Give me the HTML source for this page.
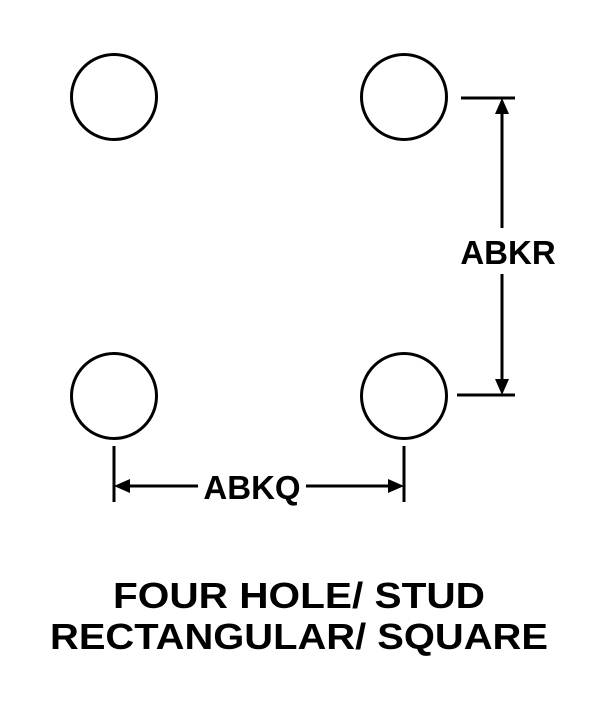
<!DOCTYPE html>
<html><head><style>
html,body{margin:0;padding:0;background:#fff;}
svg{display:block;}
text{font-family:"Liberation Sans",sans-serif;font-weight:bold;fill:#000;}
</style></head><body>
<svg width="600" height="720" viewBox="0 0 600 720" xmlns="http://www.w3.org/2000/svg">
<g fill="none" stroke="#000" stroke-width="3">
<circle cx="114" cy="97" r="42.5"/>
<circle cx="404" cy="97" r="42.5"/>
<circle cx="114" cy="396" r="42.5"/>
<circle cx="404" cy="396" r="42.5"/>
<line x1="461" y1="98" x2="515" y2="98"/>
<line x1="457" y1="395" x2="515" y2="395"/>
<line x1="502" y1="112" x2="502" y2="228"/>
<line x1="502" y1="274" x2="502" y2="380"/>
<line x1="114" y1="446" x2="114" y2="502"/>
<line x1="404" y1="446" x2="404" y2="502"/>
<line x1="128" y1="486" x2="198" y2="486"/>
<line x1="306" y1="486" x2="389" y2="486"/>
</g>
<g fill="#000">
<polygon points="502,98 495,114 509,114"/>
<polygon points="502,395 495,379 509,379"/>
<polygon points="114,486 130,479 130,493"/>
<polygon points="404,486 388,479 388,493"/>
</g>
<text x="508" y="264" font-size="33" text-anchor="middle">ABKR</text>
<text x="252" y="499" font-size="33" text-anchor="middle">ABKQ</text>
<text x="113" y="608" font-size="36" textLength="372" lengthAdjust="spacingAndGlyphs">FOUR HOLE/ STUD</text>
<text x="50" y="649" font-size="36" textLength="498" lengthAdjust="spacingAndGlyphs">RECTANGULAR/ SQUARE</text>
</svg>
</body></html>
